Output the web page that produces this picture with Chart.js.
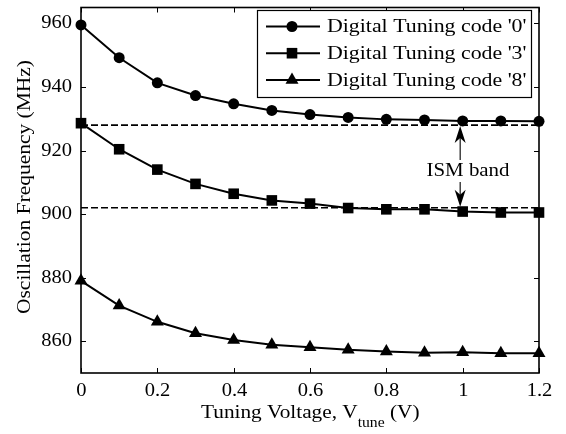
<!DOCTYPE html>
<html>
<head>
<meta charset="utf-8">
<script src="https://cdn.jsdelivr.net/npm/chart.js@4.4.1/dist/chart.umd.min.js"></script>
<style>
  html, body { margin: 0; padding: 0; background: #fff; }
  #wrap { width: 566px; height: 434px; }
</style>
</head>
<body>
<div id="wrap"><canvas id="chart" width="566" height="434"></canvas></div>
<script>
// tuning voltage (V)
var voltages = [0, 0.1, 0.2, 0.3, 0.4, 0.5, 0.6, 0.7, 0.8, 0.9, 1.0, 1.1, 1.2];
// oscillation frequency (MHz) per digital tuning code
var code0 = [959.5, 949.2, 941.3, 937.3, 934.7, 932.6, 931.3, 930.4, 929.8, 929.6, 929.3, 929.3, 929.2];
var code3 = [928.6, 920.4, 914.0, 909.5, 906.4, 904.3, 903.3, 901.9, 901.5, 901.5, 900.8, 900.5, 900.5];
var code8 = [879.0, 871.2, 866.1, 862.5, 860.4, 858.9, 858.1, 857.3, 856.8, 856.4, 856.5, 856.2, 856.2];
var seriesNames = ["Digital Tuning code '0'", "Digital Tuning code '3'", "Digital Tuning code '8'"];
var ismBand = [902, 928];
var xTicks = [0, 0.2, 0.4, 0.6, 0.8, 1, 1.2];
var yTicks = [860, 880, 900, 920, 940, 960];

var FONT = '"Liberation Serif", "Times New Roman", serif';

function pts(ys) {
    return ys.map(function (y, i) { return { x: voltages[i], y: y }; });
}

function bandLine(v) {
    return [{ x: voltages[0], y: v }, { x: voltages[voltages.length - 1], y: v }];
}

var styles = [
    { pointStyle: 'circle', radius: 5.5 },
    { pointStyle: 'rect', radius: 7.5 },
    { pointStyle: 'triangle', radius: 7.5 }
];

function curve(name, ys, st) {
    return {
        label: name,
        data: pts(ys),
        borderColor: '#000',
        backgroundColor: '#000',
        borderWidth: 2,
        pointStyle: st.pointStyle,
        pointRadius: st.radius,
        pointBorderWidth: 0,
        tension: 0,
        clip: false
    };
}

function dashed(v) {
    return {
        label: 'ISM ' + v,
        data: bandLine(v),
        borderColor: '#000',
        borderWidth: 1.6,
        borderDash: [7, 3],
        pointRadius: 0
    };
}

// text in the reference is a bit wider than Times, so stretch it horizontally
function text(ctx, str, x, y, size, sx, align, baseline) {
    ctx.save();
    ctx.font = size + 'px ' + FONT;
    ctx.textAlign = align || 'left';
    ctx.textBaseline = baseline || 'middle';
    ctx.translate(x, y);
    ctx.scale(sx, 1);
    ctx.fillText(str, 0, 0);
    ctx.restore();
}

function textWidth(ctx, str, size, sx) {
    ctx.save();
    ctx.font = size + 'px ' + FONT;
    var w = ctx.measureText(str).width * sx;
    ctx.restore();
    return w;
}

var decorations = {
    id: 'decorations',
    afterDraw: function (chart) {
        var ctx = chart.ctx;
        var a = chart.chartArea;
        var xs = chart.scales.x, ys = chart.scales.y;
        ctx.save();
        ctx.strokeStyle = '#000';
        ctx.fillStyle = '#000';
        ctx.lineWidth = 1;

        // tick marks pointing inwards on all four sides, and tick labels
        xTicks.forEach(function (v) {
            var px = Math.round(xs.getPixelForValue(v)) + 0.5;
            ctx.beginPath();
            ctx.moveTo(px, a.bottom); ctx.lineTo(px, a.bottom - 5);
            ctx.moveTo(px, a.top); ctx.lineTo(px, a.top + 5);
            ctx.stroke();
            text(ctx, String(v), px, a.bottom + 18, 19, 1.08, 'center');
        });
        yTicks.forEach(function (v) {
            var py = Math.round(ys.getPixelForValue(v)) + 0.5;
            ctx.beginPath();
            ctx.moveTo(a.left, py); ctx.lineTo(a.left + 5, py);
            ctx.moveTo(a.right, py); ctx.lineTo(a.right - 5, py);
            ctx.stroke();
            text(ctx, String(v), a.left - 9, py, 19, 1.08, 'right');
        });

        // plot box
        ctx.lineWidth = 1.6;
        ctx.strokeRect(a.left, a.top, a.right - a.left, a.bottom - a.top);

        // legend
        ctx.lineWidth = 1.2;
        ctx.fillStyle = '#fff';
        ctx.fillRect(257.5, 10.5, 274, 87);
        ctx.strokeRect(257.5, 10.5, 274, 87);
        ctx.fillStyle = '#000';
        seriesNames.forEach(function (name, i) {
            var y = 26.5 + i * 26.7;
            ctx.lineWidth = 2;
            ctx.beginPath();
            ctx.moveTo(266, y); ctx.lineTo(320, y);
            ctx.stroke();
            Chart.helpers.drawPoint(ctx, {
                pointStyle: styles[i].pointStyle, rotation: 0,
                radius: styles[i].radius, borderWidth: 0
            }, 292, y);
            text(ctx, name, 327, y + 1, 19, 1.15, 'left');
        });

        // ISM band annotation
        var ax = xs.getPixelForValue(1.0) - 2.5;
        var yHi = ys.getPixelForValue(ismBand[1]);
        var yLo = ys.getPixelForValue(ismBand[0]);
        text(ctx, 'ISM band', 468, 171, 19, 1.1, 'center');
        ctx.lineWidth = 1.1;
        ctx.beginPath();
        ctx.moveTo(ax, 160); ctx.lineTo(ax, yHi + 8);
        ctx.moveTo(ax, 182); ctx.lineTo(ax, yLo - 8);
        ctx.stroke();
        function head(tipY, dir) {
            ctx.beginPath();
            ctx.moveTo(ax, tipY);
            ctx.lineTo(ax - 5.5, tipY + dir * 17);
            ctx.lineTo(ax, tipY + dir * 12);
            ctx.lineTo(ax + 5.5, tipY + dir * 17);
            ctx.closePath();
            ctx.fill();
        }
        head(yHi + 1, 1);
        head(yLo - 1, -1);

        // x axis title with subscript
        var part1 = 'Tuning Voltage, V', sub = 'tune', part2 = ' (V)';
        var w1 = textWidth(ctx, part1, 19, 1.12);
        var w2 = textWidth(ctx, sub, 14, 1.12);
        var x0 = 201, base = 418;
        text(ctx, part1, x0, base, 19, 1.12, 'left', 'alphabetic');
        text(ctx, sub, x0 + w1, base + 9, 14, 1.12, 'left', 'alphabetic');
        text(ctx, part2, x0 + w1 + w2, base, 19, 1.12, 'left', 'alphabetic');

        // y axis title
        ctx.translate(25, 187);
        ctx.rotate(-Math.PI / 2);
        text(ctx, 'Oscillation Frequency (MHz)', 0, 0, 19, 1.13, 'center');
        ctx.restore();
    }
};

var ctx = document.getElementById('chart').getContext('2d');
var chart = new Chart(ctx, {
    type: 'line',
    data: {
        datasets: [
            dashed(ismBand[1]),
            dashed(ismBand[0]),
            curve(seriesNames[0], code0, styles[0]),
            curve(seriesNames[1], code3, styles[1]),
            curve(seriesNames[2], code8, styles[2])
        ]
    },
    options: {
        responsive: false,
        animation: false,
        layout: { padding: { left: 0, right: 27, top: 2, bottom: 0 } },
        plugins: {
            legend: { display: false },
            tooltip: { enabled: false }
        },
        scales: {
            x: {
                type: 'linear',
                min: 0,
                max: 1.2,
                afterBuildTicks: function (s) { s.ticks = xTicks.map(function (v) { return { value: v }; }); },
                afterFit: function (s) { s.height = 61; },
                grid: { display: false, drawTicks: false },
                border: { display: false },
                ticks: { display: false }
            },
            y: {
                type: 'linear',
                min: 850,
                max: 965,
                afterBuildTicks: function (s) { s.ticks = yTicks.map(function (v) { return { value: v }; }); },
                afterFit: function (s) { s.width = 81; },
                grid: { display: false, drawTicks: false },
                border: { display: false },
                ticks: { display: false }
            }
        }
    },
    plugins: [decorations]
});
</script>
</body>
</html>
